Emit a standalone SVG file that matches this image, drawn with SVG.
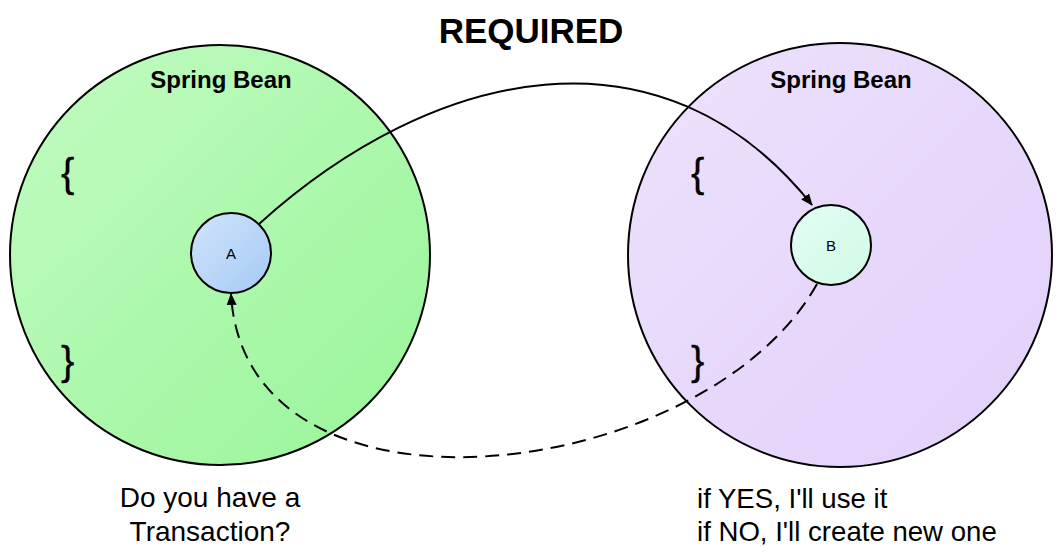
<svg xmlns="http://www.w3.org/2000/svg" width="1063" height="552" viewBox="0 0 1063 552">
<defs>
<linearGradient id="gGreen" x1="0" y1="0" x2="1" y2="1">
<stop offset="0" stop-color="#c2fbc2"/>
<stop offset="1" stop-color="#98f598"/>
</linearGradient>
<linearGradient id="gPurple" x1="0" y1="0" x2="1" y2="1">
<stop offset="0" stop-color="#ede2fc"/>
<stop offset="1" stop-color="#e2cffa"/>
</linearGradient>
<linearGradient id="gBlue" x1="0" y1="0" x2="1" y2="1">
<stop offset="0" stop-color="#d2e4fc"/>
<stop offset="1" stop-color="#a3caf5"/>
</linearGradient>
<linearGradient id="gMint" x1="0" y1="0" x2="1" y2="1">
<stop offset="0" stop-color="#e2fdf2"/>
<stop offset="1" stop-color="#d2fae6"/>
</linearGradient>
<marker id="arr" viewBox="0 0 12 10" refX="11" refY="5" markerWidth="12" markerHeight="10" markerUnits="userSpaceOnUse" orient="auto">
<path d="M0,0 L12,5 L0,10 Z" fill="#000"/>
</marker>
<style>
.big{stroke:#000;stroke-width:2}
.node{stroke:#000;stroke-width:2}
.title{font-family:"Liberation Sans",Arial,sans-serif;font-weight:bold;fill:#000}
.txt{font-family:"Liberation Sans",Arial,sans-serif;fill:#000}
.brace{font-family:"Liberation Sans",Arial,sans-serif;fill:#000;stroke:#000;stroke-width:0.3}
.conn{fill:none;stroke:#000;stroke-width:2}
</style>
</defs>
<rect width="1063" height="552" fill="#fff"/>
<text class="title" x="531" y="43" font-size="35" text-anchor="middle">REQUIRED</text>
<g id="beanLeft">
<circle class="big" cx="220" cy="255" r="210" fill="url(#gGreen)"/>
<text class="title" x="221" y="88" font-size="24" text-anchor="middle">Spring Bean</text>
<text class="brace" x="61" y="187" font-size="40">{</text>
<text class="brace" x="61" y="375" font-size="40">}</text>
</g>
<g id="beanRight">
<circle class="big" cx="840" cy="255" r="212" fill="url(#gPurple)"/>
<text class="title" x="841" y="88" font-size="24" text-anchor="middle">Spring Bean</text>
<text class="brace" x="691" y="187" font-size="40">{</text>
<text class="brace" x="691" y="375" font-size="40">}</text>
</g>
<g id="nodeA">
<circle class="node" cx="231" cy="253" r="40" fill="url(#gBlue)"/>
<text class="txt" x="231" y="259" font-size="15" text-anchor="middle">A</text>
</g>
<g id="nodeB">
<circle class="node" cx="831" cy="245" r="40" fill="url(#gMint)"/>
<text class="txt" x="831" y="251" font-size="15" text-anchor="middle">B</text>
</g>
<g id="connectors">
<path class="conn" d="M259,224 C434,66 662,17 812,205" marker-end="url(#arr)"/>
<path class="conn" d="M817,284 C705,484 245,540 231,294" stroke-dasharray="14,8" marker-end="url(#arr)"/>
</g>
<g id="notes">
<text class="txt" x="210" y="507" font-size="28" text-anchor="middle">Do you have a</text>
<text class="txt" x="210" y="541" font-size="28" text-anchor="middle">Transaction?</text>
<text class="txt" x="697" y="508" font-size="27.6">if YES, I'll use it</text>
<text class="txt" x="697" y="541" font-size="27.6">if NO, I'll create new one</text>
</g>
</svg>
